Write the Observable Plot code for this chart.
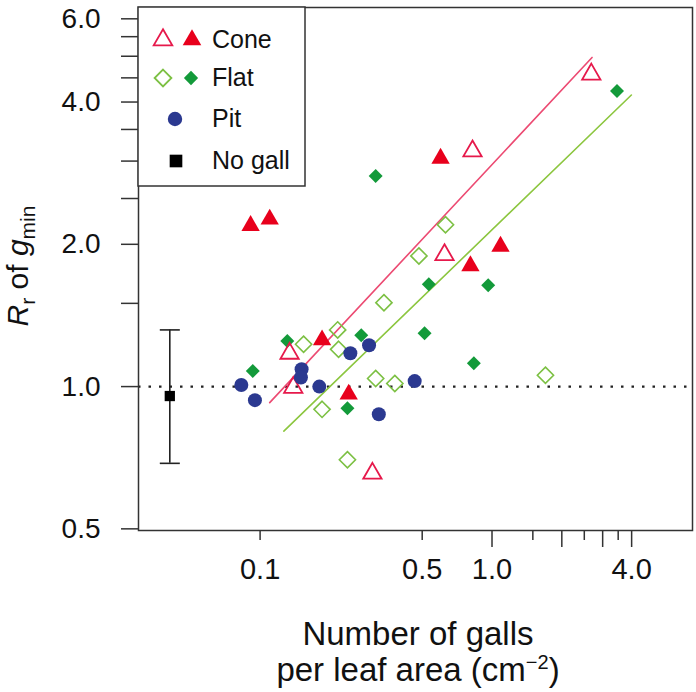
<!DOCTYPE html>
<html><head><meta charset="utf-8">
<script src="https://cdn.jsdelivr.net/npm/d3@7"></script>
<script src="https://cdn.jsdelivr.net/npm/@observablehq/plot@0.6"></script>
<style>body{margin:0;background:#fff;} #chart{width:696px;height:692px;}</style>
</head><body><div id="chart"></div>
<script>
// ---- data ----
const coneOpenX   = [2.68, 0.824, 0.624, 0.134, 0.139, 0.305];
const coneOpenY   = [4.58, 3.15, 1.90, 1.175, 0.995, 0.655];
const coneFilledX = [0.091, 0.110, 0.600, 0.807, 1.088, 0.185, 0.241];
const coneFilledY = [2.19, 2.26, 3.04, 1.80, 1.98, 1.255, 0.963];
const flatOpenX   = [1.70, 0.63, 0.484, 0.342, 0.216, 0.154, 0.218, 0.315, 0.381, 0.185, 0.238];
const flatOpenY   = [1.057, 2.2, 1.89, 1.505, 1.318, 1.229, 1.199, 1.04, 1.015, 0.895, 0.70];
const flatFilledX = [3.46, 0.315, 0.534, 0.963, 0.512, 0.835, 0.273, 0.131, 0.093, 0.238];
const flatFilledY = [4.22, 2.79, 1.646, 1.638, 1.296, 1.12, 1.284, 1.249, 1.079, 0.90];
const pitX        = [0.083, 0.095, 0.151, 0.150, 0.18, 0.245, 0.295, 0.464, 0.325];
const pitY        = [1.008, 0.936, 1.088, 1.045, 1.0, 1.176, 1.223, 1.027, 0.874];
const noGallX     = [0.0408];
const noGallY     = [0.955];
const noGallLo    = [0.688];
const noGallHi    = [1.318];
const coneFitX    = [0.110, 2.70];
const coneFitY    = [0.925, 4.97];
const flatFitX    = [0.1266, 3.99];
const flatFitY    = [0.805, 4.14];
const referenceY  = [1];

const yMajorTicks = [0.5, 1, 2, 4, 6];
const yMinorTicks = [1.5, 2.5, 3, 3.5, 4.5, 5, 5.5];
const xLabelTicks = [0.1, 0.5, 1, 4];
const xLabelText  = ["0.1", "0.5", "1.0", "4.0"];
const xShortTicks = [0.1, 0.5, 1.5, 2.5, 3.5];
const xLongTicks  = [1, 2, 3, 4];
const legendLabels = ["Cone", "Flat", "Pit", "No gall"];

// ---- build ----
const pts = (xs, ys) => xs.map((x, i) => ({x, y: ys[i]}));
const errData = noGallX.map((x, i) => ({x, lo: noGallLo[i], hi: noGallHi[i]}));
const xLabels = xLabelTicks.map((x, i) => ({x, t: xLabelText[i]}));
const capSymbol = {draw(ctx, size) { const w = Math.sqrt(size); ctx.moveTo(-w / 2, 0); ctx.lineTo(w / 2, 0); }};

const C = {
  coneOpen: "#e6194b", coneFilled: "#e8001c", coneLine: "#ec4a72",
  flatOpen: "#7cc043", flatFilled: "#139a3a", flatLine: "#8cc63f",
  pit: "#2b3990", axis: "#333"
};
const FONT = "'Liberation Sans', Arial, Helvetica, sans-serif";

const plot = Plot.plot({
  width: 696, height: 692,
  marginLeft: 138, marginRight: 4, marginTop: 7, marginBottom: 162,
  x: {type: "log", domain: [0.0299, 7.32]},
  y: {type: "log", domain: [0.496, 6.34]},
  style: {fontFamily: FONT, background: "white", color: "#111"},
  marks: [
    Plot.ruleY(referenceY, {stroke: "#222", strokeWidth: 2.2, strokeDasharray: "2.5,8"}),
    Plot.line(pts(coneFitX, coneFitY), {x: "x", y: "y", stroke: C.coneLine, strokeWidth: 1.6}),
    Plot.line(pts(flatFitX, flatFitY), {x: "x", y: "y", stroke: C.flatLine, strokeWidth: 1.6}),
    Plot.ruleX(errData, {x: "x", y1: "lo", y2: "hi", stroke: "#222", strokeWidth: 1.6}),
    Plot.dot(errData, {x: "x", y: "lo", symbol: capSymbol, r: 11.3, stroke: "#222", strokeWidth: 1.6, fill: "none"}),
    Plot.dot(errData, {x: "x", y: "hi", symbol: capSymbol, r: 11.3, stroke: "#222", strokeWidth: 1.6, fill: "none"}),
    Plot.dot(pts(noGallX, noGallY), {x: "x", y: "y", symbol: "square", r: 5.8, fill: "#000"}),
    Plot.dot(pts(flatOpenX, flatOpenY), {x: "x", y: "y", symbol: "diamond2", r: 7.3, fill: "none", stroke: C.flatOpen, strokeWidth: 1.6}),
    Plot.dot(pts(flatFilledX, flatFilledY), {x: "x", y: "y", symbol: "diamond2", r: 6.3, fill: C.flatFilled}),
    Plot.dot(pts(coneOpenX, coneOpenY), {x: "x", y: "y", symbol: "triangle", r: 6.8, fill: "none", stroke: C.coneOpen, strokeWidth: 1.8}),
    Plot.dot(pts(coneFilledX, coneFilledY), {x: "x", y: "y", symbol: "triangle", r: 6.8, fill: C.coneFilled}),
    Plot.dot(pts(pitX, pitY), {x: "x", y: "y", symbol: "circle", r: 7, fill: C.pit}),
    Plot.frame({stroke: C.axis, strokeWidth: 1.5}),
    Plot.axisY(yMajorTicks, {tickSize: 17, tickPadding: 21, tickFormat: d => d.toFixed(1), fontSize: 28, stroke: C.axis, strokeWidth: 1.5, label: null}),
    Plot.axisY(yMinorTicks, {tickSize: 17, tickFormat: () => "", stroke: C.axis, strokeWidth: 1.5, label: null}),
    Plot.axisX(xShortTicks, {tickSize: 10, tickFormat: () => "", stroke: C.axis, strokeWidth: 1.5, label: null}),
    Plot.axisX(xLongTicks, {tickSize: 17, tickFormat: () => "", stroke: C.axis, strokeWidth: 1.5, label: null}),
    Plot.text(xLabels, {x: "x", text: "t", frameAnchor: "bottom", dy: 48, fontSize: 29, fill: "#111"})
  ]
});
document.getElementById("chart").appendChild(plot);

// ---- legend and axis titles (decoration layer) ----
const svg = d3.select(plot);
const lg = svg.append("g");
lg.append("rect").attr("x", 138).attr("y", 7).attr("width", 167).attr("height", 179)
  .attr("fill", "white").attr("stroke", C.axis).attr("stroke-width", 1.5);
const sym = (type, size) => d3.symbol().type(type).size(size)();
const legendRows = [
  {y: 40, syms: [{x: 163, t: d3.symbolTriangle, s: 150, fill: "none", stroke: C.coneOpen}, {x: 192, t: d3.symbolTriangle, s: 150, fill: C.coneFilled}]},
  {y: 78, syms: [{x: 163, t: d3.symbolDiamond2, s: 180, fill: "none", stroke: C.flatOpen}, {x: 191, t: d3.symbolDiamond2, s: 130, fill: C.flatFilled}]},
  {y: 119, syms: [{x: 175, t: d3.symbolCircle, s: Math.PI * 52, fill: C.pit}]},
  {y: 161, syms: [{x: 176, t: d3.symbolSquare, s: 160, fill: "#000"}]}
];
legendRows.forEach((row, i) => {
  row.syms.forEach(s => {
    lg.append("path").attr("d", sym(s.t, s.s)).attr("transform", `translate(${s.x},${row.y})`)
      .attr("fill", s.fill).attr("stroke", s.stroke || "none").attr("stroke-width", s.stroke ? 1.8 : 0);
  });
  lg.append("text").attr("x", 212).attr("y", row.y - 1).attr("dy", "0.36em").attr("text-anchor", "start")
    .attr("font-size", 25).attr("font-family", FONT).attr("fill", "#111").text(legendLabels[i]);
});

// Y title
const yt = svg.append("text").attr("transform", "translate(28,266) rotate(-90)")
  .attr("text-anchor", "middle").attr("font-size", 30).attr("font-family", FONT).attr("fill", "#111");
yt.append("tspan").attr("font-style", "italic").text("R");
yt.append("tspan").attr("font-size", 21).attr("dy", 7).text("r");
yt.append("tspan").attr("dy", -7).text(" of ");
yt.append("tspan").attr("font-style", "italic").text("g");
yt.append("tspan").attr("font-size", 21).attr("dy", 7).text("min");

// X title
svg.append("text").attr("x", 418).attr("y", 645).attr("text-anchor", "middle")
  .attr("font-size", 33).attr("font-family", FONT).attr("fill", "#111").text("Number of galls");
const xt2 = svg.append("text").attr("x", 418).attr("y", 681).attr("text-anchor", "middle")
  .attr("font-size", 33).attr("font-family", FONT).attr("fill", "#111");
xt2.append("tspan").text("per leaf area (cm");
xt2.append("tspan").attr("font-size", 20).attr("dy", -12).text("\u22122");
xt2.append("tspan").attr("dy", 12).text(")");
</script>
</body></html>
